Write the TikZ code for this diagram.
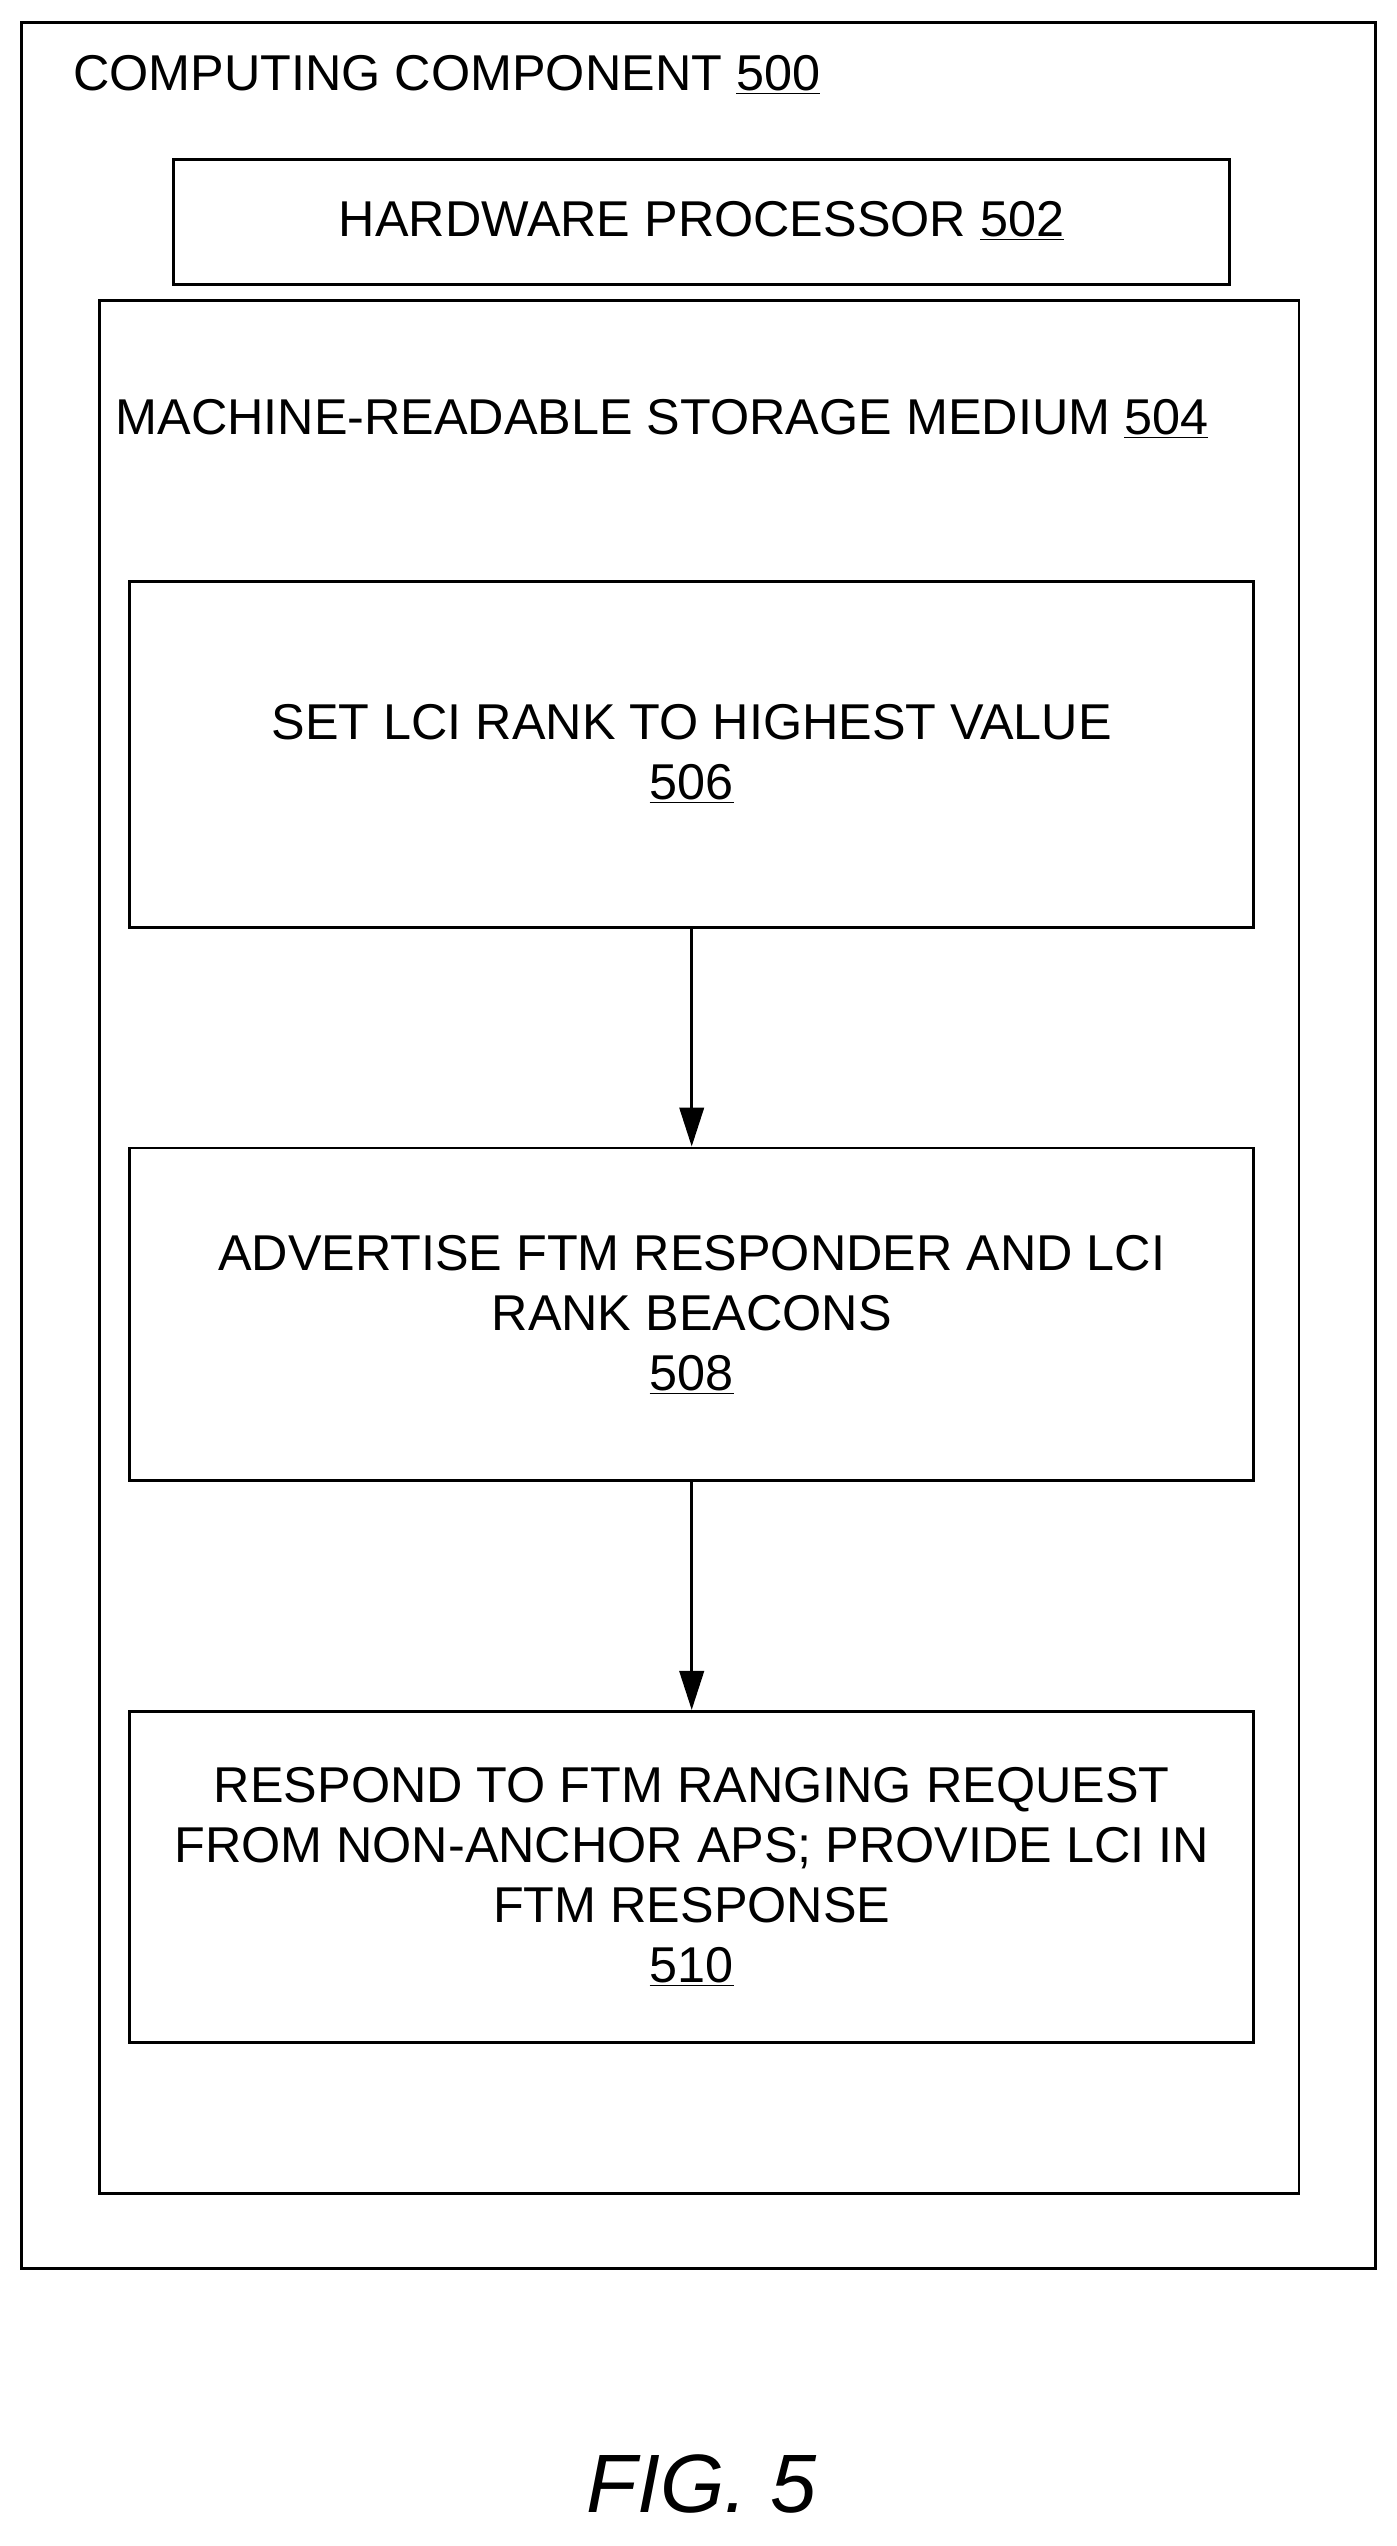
\documentclass[tikz,border=0pt]{standalone}
\usepackage{fontspec}
\setmainfont{Liberation Sans}
\usetikzlibrary{arrows.meta}
\begin{document}
\begin{tikzpicture}[x=1pt,y=-1pt,
  box/.style={draw,line width=1.8pt},
  txt/.style={font=\fontsize{31}{37}\selectfont,align=center,inner sep=0pt},
  arr/.style={line width=1.8pt,-{Triangle[length=24pt,width=15pt]}}]
\useasboundingbox (0,0) rectangle (860,1568);
\draw[box] (13,14) rectangle (847,1397);
\node[txt,anchor=west] (t500) at (45,46) {COMPUTING COMPONENT \underline{500}};
\draw[box] (107,98) rectangle (757,175);
\node[txt] (t502) at (432,136) {HARDWARE PROCESSOR \underline{502}};
\draw[box] (61,185) rectangle (800,1351);
\node[txt,anchor=west] (t504) at (71,258) {MACHINE-READABLE STORAGE MEDIUM \underline{504}};
\node[box,minimum width=692pt,minimum height=213pt,txt] (b506) at (426,464.5) {SET LCI RANK TO HIGHEST VALUE\\\underline{506}};
\node[box,minimum width=692pt,minimum height=205pt,txt] (b508) at (426,809.5) {ADVERTISE FTM RESPONDER AND LCI\\RANK BEACONS\\\underline{508}};
\node[box,minimum width=692pt,minimum height=204pt,txt] (b510) at (426,1156) {RESPOND TO FTM RANGING REQUEST\\FROM NON-ANCHOR APS; PROVIDE LCI IN\\FTM RESPONSE\\\underline{510}};
\draw[arr] (b506) -- (b508);
\draw[arr] (b508) -- (b510);
\node[font=\fontsize{51}{58}\selectfont\itshape] (fig) at (432,1530) {FIG. 5};
\end{tikzpicture}
\end{document}
